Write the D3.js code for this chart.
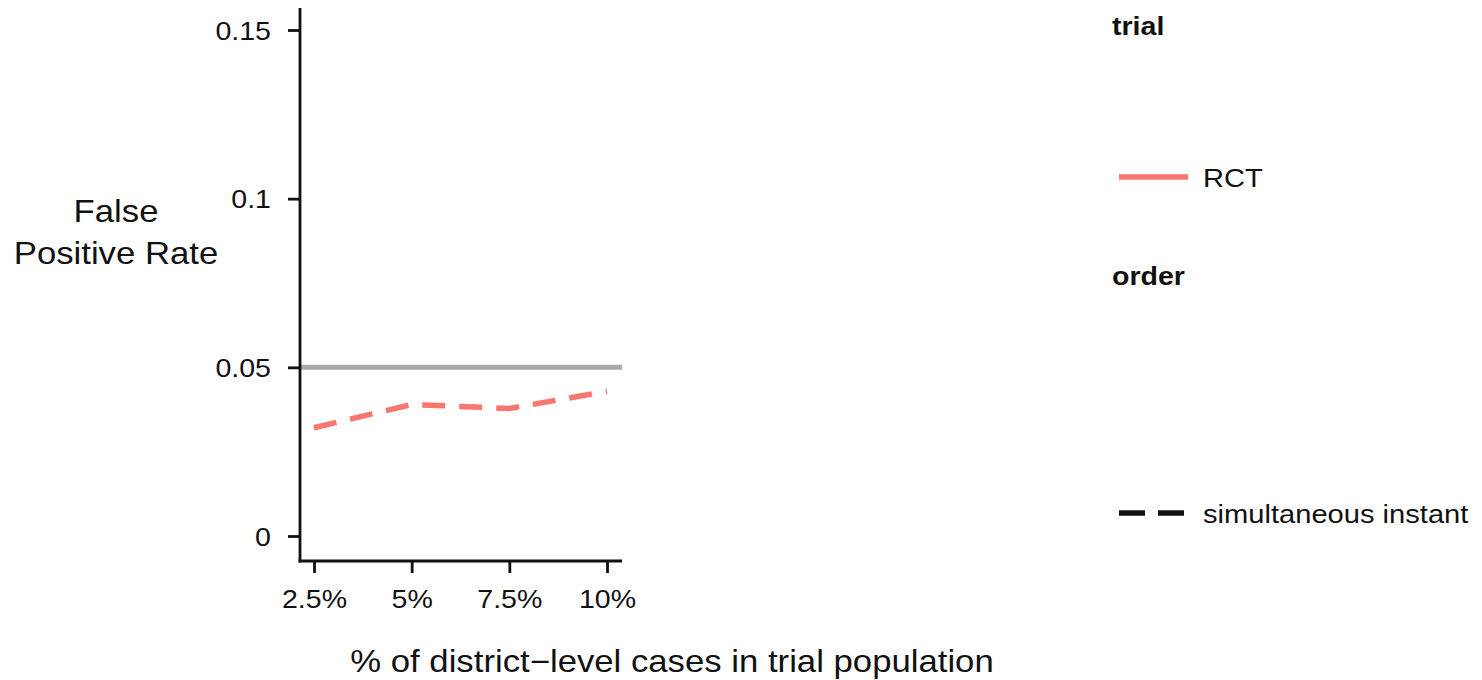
<!DOCTYPE html>
<html>
<head>
<meta charset="utf-8">
<script src="https://cdn.jsdelivr.net/npm/d3@7"></script>
<style>
  body { margin: 0; background: #fff; }
  svg text { font-family: "Liberation Sans", Arial, Helvetica, sans-serif; fill: #111; }
</style>
</head>
<body>
<svg id="chart" width="1482" height="680"></svg>
<script>
const pctLevels = [0.025, 0.05, 0.075, 0.10];
const pctLabels = ["2.5%", "5%", "7.5%", "10%"];
const fprRCT = [0.0321, 0.0390, 0.0378, 0.0429];
const yTicks = [0, 0.05, 0.1, 0.15];
const yTickLabels = ["0", "0.05", "0.1", "0.15"];
const nominalAlpha = 0.05;

const svg = d3.select("#chart");
const sx = 1.12; // text in the original is a bit wider than Liberation Sans

// move x/y into a transform so glyphs can be widened around their anchor
function stretch(sel) {
    sel.each(function () {
        const t = d3.select(this);
        const tx = +t.attr("x") || 0, ty = +t.attr("y") || 0;
        t.attr("x", 0).attr("y", 0)
            .attr("transform", `translate(${tx},${ty}) scale(${sx},1)`);
    });
}

const x = d3.scaleLinear().domain([0.025, 0.10]).range([314, 607]);
const y = d3.scaleLinear().domain([0, 0.15]).range([536, 30]);

const axisLeftX = 300, axisBottomY = 561;

// reference line at 0.05
svg.append("line")
    .attr("x1", axisLeftX).attr("x2", 622)
    .attr("y1", y(nominalAlpha)).attr("y2", y(nominalAlpha))
    .attr("stroke", "#a9a9a9")
    .attr("stroke-width", 5);

// RCT line
const line = d3.line()
    .x((d, i) => x(pctLevels[i]))
    .y(d => y(d));

svg.append("path")
    .datum(fprRCT)
    .attr("fill", "none")
    .attr("stroke", "#F8766D")
    .attr("stroke-width", 5.5)
    .attr("stroke-dasharray", "23,14")
    .attr("d", line);

// y axis
const yAxis = svg.append("g")
    .attr("transform", `translate(${axisLeftX},0)`)
    .call(d3.axisLeft(y).tickValues(yTicks).tickSize(12).tickPadding(17)
        .tickFormat((d, i) => yTickLabels[i]));
yAxis.select(".domain").remove();
yAxis.selectAll("line").attr("stroke", "#111").attr("stroke-width", 2.8);
yAxis.selectAll("text").style("font-size", "25.5px").attr("dy", "0.36em").call(stretch);

svg.append("line")
    .attr("x1", axisLeftX).attr("x2", axisLeftX)
    .attr("y1", 8).attr("y2", axisBottomY + 1.4)
    .attr("stroke", "#111").attr("stroke-width", 2.8);

// x axis
const xAxis = svg.append("g")
    .attr("transform", `translate(0,${axisBottomY})`)
    .call(d3.axisBottom(x).tickValues(pctLevels).tickSize(12).tickPadding(17)
        .tickFormat((d, i) => pctLabels[i]));
xAxis.select(".domain").remove();
xAxis.selectAll("line").attr("stroke", "#111").attr("stroke-width", 2.8);
xAxis.selectAll("text").style("font-size", "25.5px").call(stretch);

svg.append("line")
    .attr("x1", axisLeftX - 1.4).attr("x2", 622)
    .attr("y1", axisBottomY).attr("y2", axisBottomY)
    .attr("stroke", "#111").attr("stroke-width", 2.8);

// axis titles
const yTitle = svg.append("g").attr("text-anchor", "middle").style("font-size", "31px");
yTitle.append("text").attr("x", 116).attr("y", 222).text("False");
yTitle.append("text").attr("x", 116).attr("y", 264).text("Positive Rate");
yTitle.selectAll("text").call(stretch);

svg.append("text")
    .attr("x", 672).attr("y", 672)
    .attr("text-anchor", "middle")
    .style("font-size", "31px")
    .text("% of district\u2212level cases in trial population")
    .call(stretch);

// legend
const legend = svg.append("g");
legend.append("text").attr("x", 1112).attr("y", 35)
    .style("font-size", "25.5px").style("font-weight", "bold").text("trial");
legend.append("line")
    .attr("x1", 1119).attr("x2", 1188).attr("y1", 177).attr("y2", 177)
    .attr("stroke", "#F8766D").attr("stroke-width", 5.5);
legend.append("text").attr("x", 1203).attr("y", 187)
    .style("font-size", "26px").text("RCT");

legend.append("text").attr("x", 1112).attr("y", 285)
    .style("font-size", "25.5px").style("font-weight", "bold").text("order");
legend.append("line")
    .attr("x1", 1119).attr("x2", 1184).attr("y1", 513).attr("y2", 513)
    .attr("stroke", "#111").attr("stroke-width", 5.5)
    .attr("stroke-dasharray", "26,13");
legend.append("text").attr("x", 1203).attr("y", 523)
    .style("font-size", "26px").text("simultaneous instant");
legend.selectAll("text").call(stretch);
</script>
</body>
</html>
